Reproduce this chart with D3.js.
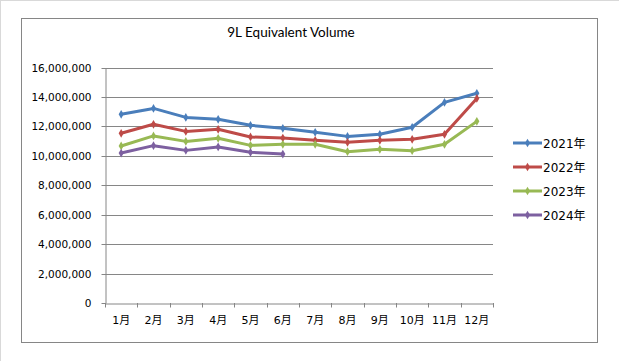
<!DOCTYPE html>
<html><head><meta charset="utf-8">
<script src="https://cdn.jsdelivr.net/npm/d3@7"></script>
<style>body{margin:0;background:#fff}svg{display:block}</style>
</head><body>
<svg id="c" width="619" height="361"></svg>
<script>
const months = ["1月","2月","3月","4月","5月","6月","7月","8月","9月","10月","11月","12月"];
const seriesNames = ["2021年","2022年","2023年","2024年"];
const v2021 = [12820000,13220000,12610000,12480000,12070000,11870000,11600000,11320000,11460000,11940000,13630000,14250000];
const v2022 = [11530000,12140000,11660000,11800000,11280000,11210000,11050000,10920000,11050000,11120000,11460000,13900000];
const v2023 = [10670000,11350000,10980000,11190000,10710000,10780000,10780000,10280000,10440000,10350000,10780000,12340000];
const v2024 = [10190000,10690000,10370000,10600000,10240000,10120000];
const yTicks = [0,2000000,4000000,6000000,8000000,10000000,12000000,14000000,16000000];
const colors = ["#4a7ebb","#be4b48","#98b954","#7d60a0"];
const allSeries = [v2021,v2022,v2023,v2024];

const svg = d3.select("#c");
// outer light frame
svg.append("line").attr("x1",0).attr("x2",619).attr("y1",0.5).attr("y2",0.5).attr("stroke","#d9d9d9");
svg.append("line").attr("x1",0.5).attr("x2",0.5).attr("y1",0).attr("y2",361).attr("stroke","#d9d9d9");
// chart border
svg.append("rect").attr("x",21.5).attr("y",18.5).attr("width",576).attr("height",324)
  .attr("fill","#fff").attr("stroke","#868686");

const L=105, R=493, T=67.5, B=303;
const x = d3.scaleBand().domain(months).range([L,R]).padding(0);
const y = d3.scaleLinear().domain([0,16000000]).range([B,T]);
const cx = d => x(d)+x.bandwidth()/2;

svg.append("text").attr("x",291).attr("y",37).attr("text-anchor","middle")
  .attr("font-family","Lato, 'Open Sans', sans-serif").attr("font-size",13.5).attr("fill","#000")
  .text("9L Equivalent Volume");

// gridlines
svg.append("g").selectAll("line").data(yTicks.filter(d=>d>0)).join("line")
  .attr("x1",L).attr("x2",R).attr("y1",d=>Math.round(y(d))+0.5).attr("y2",d=>Math.round(y(d))+0.5)
  .attr("stroke","#868686");

// y axis
const ya = svg.append("g").attr("transform",`translate(${L+0.5},0)`)
  .call(d3.axisLeft(y).tickValues(yTicks).tickFormat(d3.format(",")).tickSize(4).tickSizeOuter(0).tickPadding(10));
ya.select(".domain").attr("stroke","#868686");
ya.selectAll(".tick line").attr("stroke","#868686");
ya.selectAll(".tick").attr("transform",d=>`translate(0,${Math.round(y(d))+0.5})`);
ya.selectAll("text").attr("font-family","'DejaVu Sans', sans-serif").attr("font-size",10.5).attr("fill","#000");

// x axis
const xa = svg.append("g").attr("transform",`translate(0,${B+0.5})`)
  .call(d3.axisBottom(x).tickSize(0).tickSizeOuter(0).tickPadding(13));
xa.select(".domain").attr("stroke","#868686");
xa.selectAll("text").attr("font-family","'DejaVu Sans', 'Noto Sans CJK JP', sans-serif").attr("font-size",11).attr("fill","#000");
const bounds = months.map(m=>x(m)).concat([R]);
svg.append("g").selectAll("line").data(bounds).join("line")
  .attr("x1",d=>Math.round(d)+0.5).attr("x2",d=>Math.round(d)+0.5).attr("y1",B).attr("y2",B+4.5)
  .attr("stroke","#868686");

const line = d3.line().x((d,i)=>cx(months[i])).y(d=>y(d));
const sym = d3.symbol().type(d3.symbolDiamond).size(22);
allSeries.forEach((s,k)=>{
  const g = svg.append("g");
  g.append("path").datum(s).attr("d",line).attr("fill","none").attr("stroke",colors[k])
    .attr("stroke-width",3).attr("stroke-linejoin","round").attr("stroke-linecap","round");
  g.selectAll("path.m").data(s).join("path").attr("class","m").attr("d",sym)
    .attr("transform",(d,i)=>`translate(${cx(months[i])},${y(d)})`).attr("fill",colors[k]);
});

// legend
const lg = svg.append("g");
seriesNames.forEach((n,k)=>{
  const ly = 143 + k*24;
  lg.append("line").attr("x1",513).attr("x2",542).attr("y1",ly).attr("y2",ly)
    .attr("stroke",colors[k]).attr("stroke-width",3);
  lg.append("path").attr("d",sym).attr("transform",`translate(527.5,${ly})`).attr("fill",colors[k]);
  lg.append("text").attr("x",543).attr("y",ly+4.5)
    .attr("font-family","'DejaVu Sans', 'Noto Sans CJK JP', sans-serif").attr("font-size",12).attr("fill","#000")
    .text(n);
});
</script>
</body></html>
